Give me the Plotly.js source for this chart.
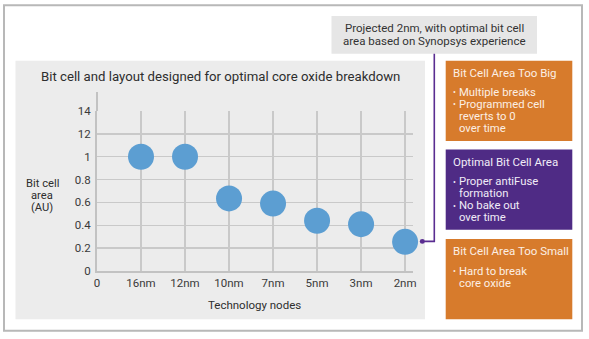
<!DOCTYPE html>
<html><head><meta charset="utf-8">
<script src="https://cdn.plot.ly/plotly-3.0.1.min.js"></script>
<style>html,body{margin:0;padding:0;background:#fff}#chart{width:589px;height:339px}</style>
</head><body><div id="chart"></div>
<script>
// ---- data ----
const tickLabels = ['0','16nm','12nm','10nm','7nm','5nm','3nm','2nm'];
const nodes = ['16nm','12nm','10nm','7nm','5nm','3nm','2nm'];
const bitCellArea = [1.0, 1.0, 0.635, 0.59, 0.44, 0.41, 0.255];
const yTickVals = [0, 0.2, 0.4, 0.6, 0.8, 1, 1.2, 1.4];
const yTickText = ['0', '0.2', '0.4', '0.6', '0.8', '1', '12', '14'];
const chartTitle = 'Bit cell and layout designed for optimal core oxide breakdown';
const yTitleLines = ['Bit cell', 'area', '(AU)'];
const xTitle = 'Technology nodes';
const calloutLines = ['Projected 2nm, with optimal bit cell', 'area based on Synopsys experience'];
const boxBig = {head: 'Bit Cell Area Too Big', lines: [['• ', 'Multiple breaks'], ['• ', 'Programmed cell'], ['', 'reverts to 0'], ['', 'over time']]};
const boxOpt = {head: 'Optimal Bit Cell Area', lines: [['• ', 'Proper antiFuse'], ['', 'formation'], ['• ', 'No bake out'], ['', 'over time']]};
const boxSmall = {head: 'Bit Cell Area Too Small', lines: [['• ', 'Hard to break'], ['', 'core oxide']]};

// ---- layout geometry (pixels -> paper) ----
const W = 589, H = 339;
const L = 97, R = 413, T = 110.5, B = 271.5;
const PW = R - L, PH = B - T;
const px = x => (x - L) / PW;
const py = y => (B - y) / PH;
const FONT = 'Roboto, Arial, sans-serif';

function rect(x0, y0, x1, y1, fill, line, layer) {
  return {type: 'rect', xref: 'paper', yref: 'paper', x0: px(x0), x1: px(x1), y0: py(y1), y1: py(y0),
    fillcolor: fill, line: line || {width: 0}, layer: layer || 'below'};
}
function ann(text, x, y, size, color, xanchor) {
  return {text: text, xref: 'paper', yref: 'paper', x: px(x), y: py(y), xanchor: xanchor || 'left', yanchor: 'middle',
    showarrow: false, borderpad: 0, font: {family: FONT, size: size, color: color}};
}

const shapes = [
  rect(15.5, 60, 425, 320, '#ececec', null, 'below'),
  rect(4, 4, 582, 331.5, 'rgba(0,0,0,0)', {color: '#b8b8b8', width: 2}, 'below'),
  rect(331.5, 15, 537, 53, '#e6e6e6', null, 'below'),
  rect(445.7, 60, 572.3, 140.7, '#d77b2c', null, 'below'),
  rect(445.7, 149.3, 572.3, 230, '#4f2b85', null, 'below'),
  rect(445.7, 239.3, 572.3, 320, '#d77b2c', null, 'below'),
  // y axis line extension above top gridline
  {type: 'line', xref: 'paper', yref: 'paper', x0: px(97), x1: px(97), y0: py(110.5), y1: py(91.5), line: {color: '#c2c2c2', width: 2}},
  // connector
  {type: 'path', xref: 'paper', yref: 'paper',
   path: `M ${px(434.3)} ${py(53)} L ${px(434.3)} ${py(241.7)} L ${px(422.3)} ${py(241.7)}`,
   line: {color: '#5a2d91', width: 1.6}},
  {type: 'circle', xref: 'paper', yref: 'paper', x0: px(419.8), x1: px(424.8), y0: py(244.2), y1: py(239.2),
   fillcolor: '#5a2d91', line: {width: 0}}
];

const annotations = [
  ann(chartTitle, 220.5, 75.7, 13.2, '#2e2e2e', 'center'),
  ann(xTitle, 254, 306, 11.5, '#2e2e2e', 'center'),
];
yTitleLines.forEach((t, i) => annotations.push(ann(t, 42.3, 183.5 + i * 12.3, 11.2, '#2e2e2e', 'center')));
calloutLines.forEach((t, i) => annotations.push(ann(t, 434.3, 26.7 + i * 13.3, 11.5, '#333333', 'center')));

function boxText(box, headY, firstY, step, color) {
  annotations.push(ann(box.head, 451.7, headY, 11.5, color));
  box.lines.forEach((l, i) => {
    const y = firstY + i * step;
    if (l[0]) annotations.push(ann('•', 451.5, y, 8.5, color));
    annotations.push(ann(l[1], 457.5, y, 11.3, color));
  });
}
boxText(boxBig, 72.3, 91.7, 12.2, '#fcefe4');
boxText(boxOpt, 162.3, 181.7, 12.0, '#f1ecf7');
boxText(boxSmall, 251.7, 271.5, 12.3, '#fcefe4');

const trace = {
  type: 'scatter', mode: 'markers', x: nodes, y: bitCellArea,
  marker: {size: 26, color: '#5c9ed2', line: {width: 0}},
  hoverinfo: 'skip', cliponaxis: false
};

const layout = {
  width: W, height: H,
  margin: {l: L, r: W - R, t: T, b: H - B, pad: 0},
  paper_bgcolor: '#ffffff', plot_bgcolor: 'rgba(0,0,0,0)',
  showlegend: false,
  font: {family: FONT, size: 11.5, color: '#333333'},
  xaxis: {type: 'category', categoryorder: 'array', categoryarray: tickLabels,
    tickvals: tickLabels, ticktext: tickLabels,
    range: [0, 7.18], showgrid: true, gridcolor: '#c9c9c9', gridwidth: 1.5,
    showline: true, linecolor: '#c2c2c2', linewidth: 2, zeroline: false, ticks: '',
    tickfont: {family: FONT, size: 11.5, color: '#3a3a3a'}, fixedrange: true},
  yaxis: {range: [0, 1.4], tickvals: yTickVals, ticktext: yTickText,
    showgrid: true, gridcolor: '#c9c9c9', gridwidth: 1.5, ticklabelstandoff: 2,
    showline: true, linecolor: '#c2c2c2', linewidth: 2, zeroline: false, ticks: '',
    tickfont: {family: FONT, size: 11.5, color: '#3a3a3a'}, fixedrange: true},
  shapes: shapes,
  annotations: annotations
};

Plotly.newPlot('chart', [trace], layout, {displayModeBar: false, staticPlot: true});
</script>
</body></html>
